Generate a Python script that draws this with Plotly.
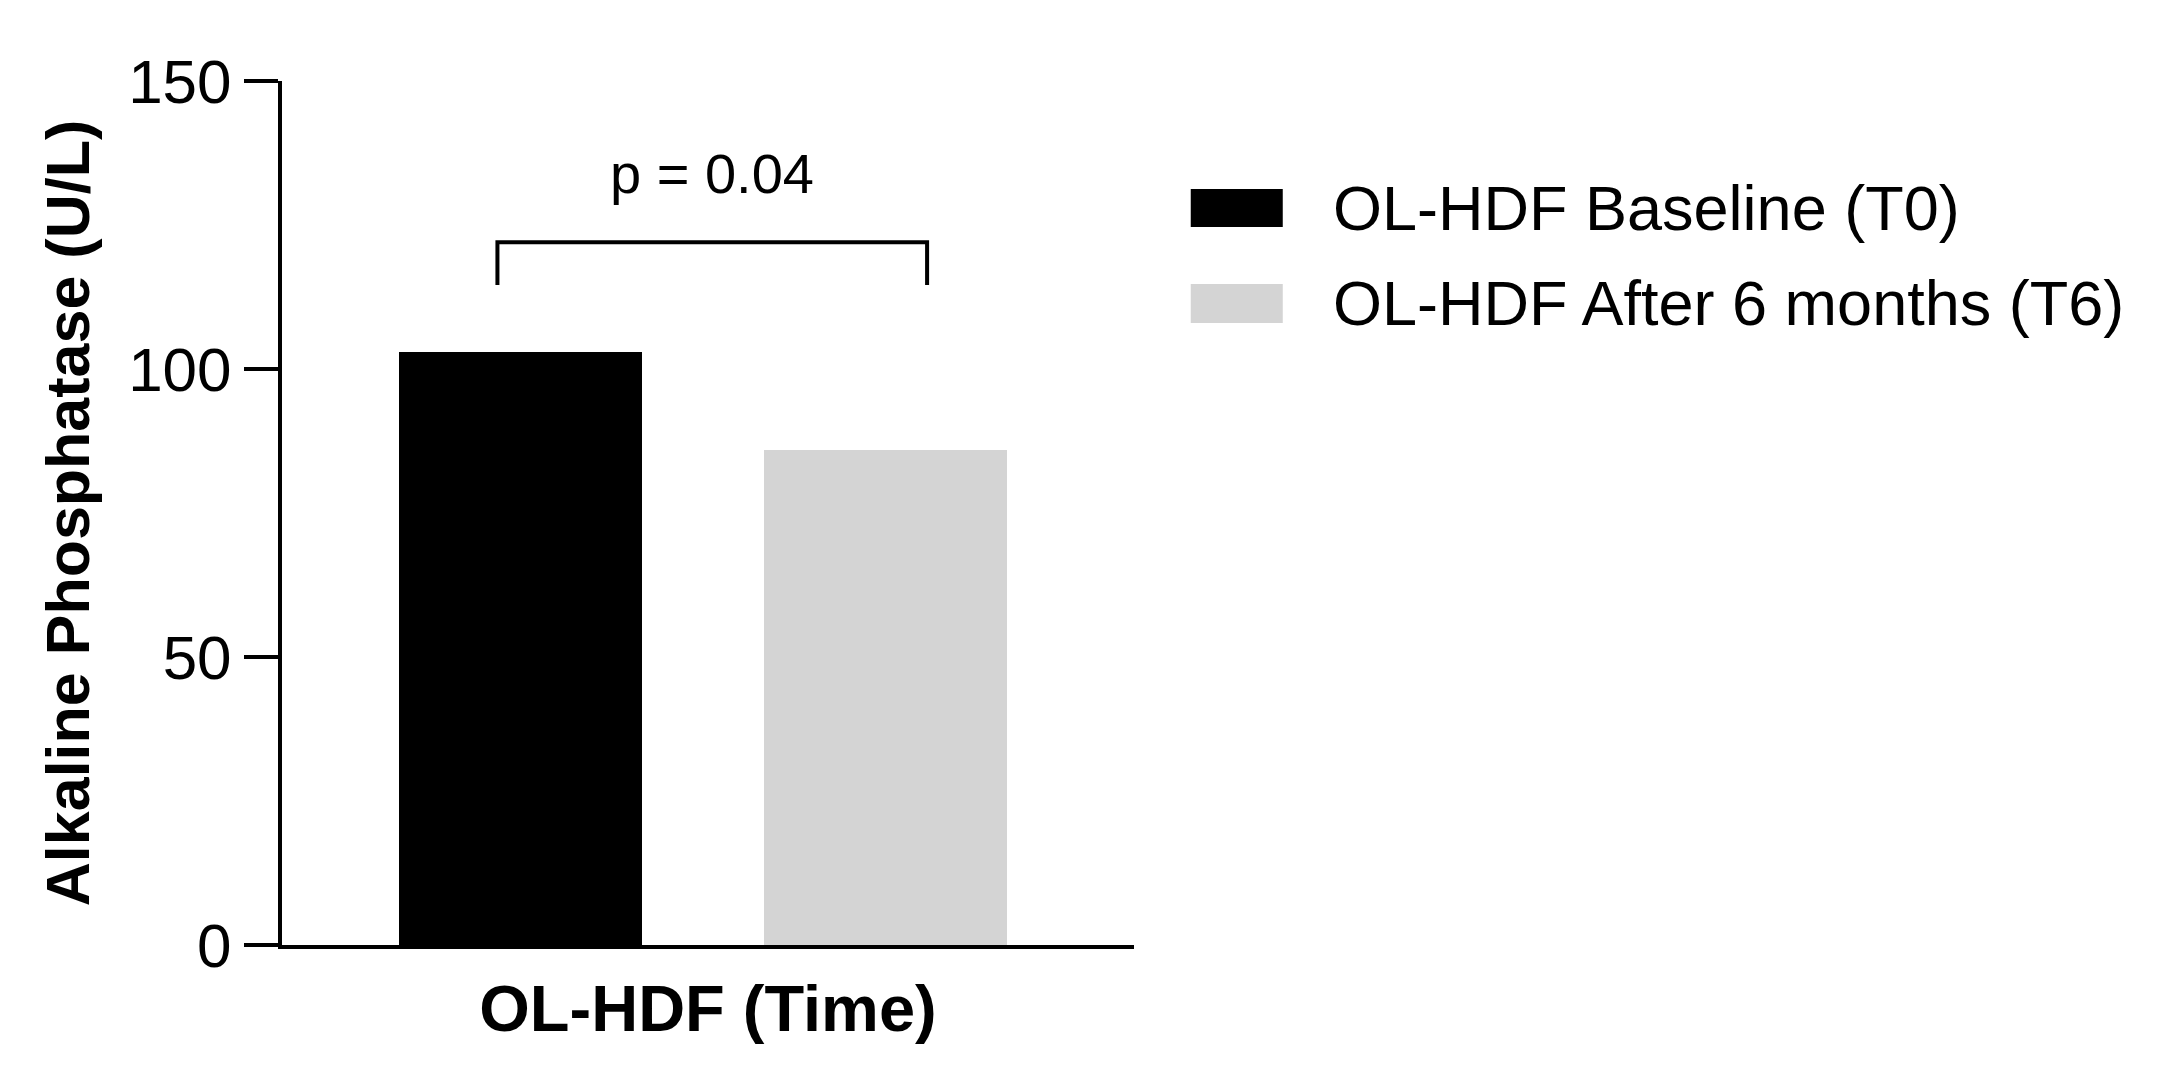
import plotly.graph_objects as go

# data
groups = ["OL-HDF Baseline (T0)", "OL-HDF After 6 months (T6)"]
group_x = [0.98, 2.48]
alp_values = [103, 86]
bar_colors = ["#000000", "#d4d4d4"]

# significance bracket
bracket_x = [0.885, 0.885, 2.65, 2.65]
bracket_y = [114.6, 122, 122, 114.6]
p_label = "p = 0.04"

y_ticks = [0, 50, 100, 150]

font_family = "Liberation Sans, Arial, sans-serif"

fig = go.Figure()

for name, x, v, c in zip(groups, group_x, alp_values, bar_colors):
    fig.add_trace(go.Bar(x=[x], y=[v], name=name, width=1.0,
                         marker=dict(color=c, line=dict(width=0)),
                         showlegend=False))

fig.add_trace(go.Scatter(x=bracket_x, y=bracket_y, mode="lines",
                         line=dict(color="black", width=4),
                         showlegend=False, hoverinfo="skip"))

fig.add_annotation(x=sum(bracket_x[1:3]) / 2, y=134, text=p_label,
                   showarrow=False, font=dict(size=56, color="black"),
                   xanchor="center", yanchor="middle")

# hand-made legend with big swatches
legend_rows = [(0.875, 0.831, 0.853), (0.765, 0.720, 0.743)]
for (y0, y1, yc), name, c in zip(legend_rows, groups, bar_colors):
    fig.add_shape(type="rect", xref="paper", yref="paper",
                  x0=1.0666, x1=1.1746, y0=y1, y1=y0,
                  fillcolor=c, line=dict(width=0))
    fig.add_annotation(xref="paper", yref="paper", x=1.2314, y=yc,
                       text=name, showarrow=False, xanchor="left",
                       yanchor="middle", font=dict(size=63, color="black"))

fig.update_layout(
    width=2158, height=1091,
    margin=dict(l=274, r=1032, t=73, b=154),
    plot_bgcolor="white", paper_bgcolor="white",
    font=dict(family=font_family, color="black"),
    bargap=0,
)

fig.update_xaxes(range=[0, 3.5], showline=True, linewidth=4, linecolor="black",
                 showgrid=False, zeroline=False, showticklabels=False, ticks="",
                 title=dict(text="<b>OL-HDF (Time)</b>", font=dict(size=65),
                            standoff=38))
fig.update_yaxes(range=[0, 150], tickvals=y_ticks, showline=True, linewidth=4,
                 linecolor="black", showgrid=False, zeroline=False,
                 ticks="outside", ticklen=34, tickwidth=4, tickcolor="black",
                 tickfont=dict(size=62),
                 title=dict(text="<b>Alkaline Phosphatase (U/L)</b>",
                            font=dict(size=61), standoff=20))

fig.write_html("out.html")
